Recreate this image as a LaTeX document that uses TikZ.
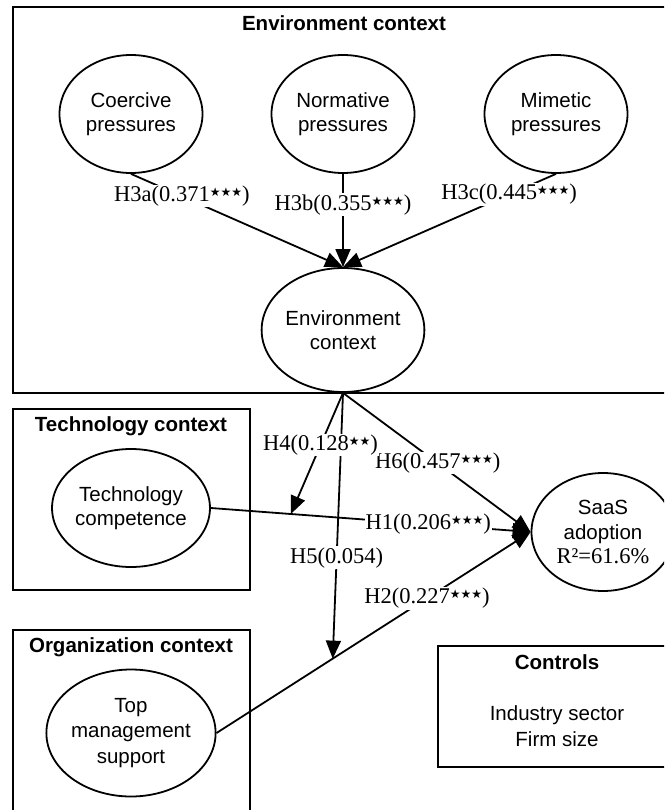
\documentclass[tikz,border=0pt]{standalone}
\usepackage{fontspec}
\setmainfont{Liberation Sans}
\newfontfamily\serifl{Liberation Serif}
\newfontfamily\symf{DejaVu Sans}
\usetikzlibrary{shapes.geometric,arrows.meta,calc}
\newcommand\sigstars[1]{\raisebox{5pt}{\symf\fontsize{12}{12}\selectfont #1}}
\tikzset{
  box/.style={draw,line width=2.4pt},
  lat/.style={draw,ellipse,line width=1.8pt,minimum width=143pt,minimum height=118pt,inner sep=0pt,align=center,font=\fontsize{20.5}{24.5}\selectfont},
  ttl/.style={font=\fontsize{20.5}{24}\selectfont\bfseries,inner sep=0pt},
  txt/.style={font=\fontsize{20.5}{26}\selectfont,align=center,inner sep=0pt},
  edge/.style={line width=1.8pt,-{Triangle[length=18pt,width=15pt]}},
  lbl/.style={fill=white,inner sep=1pt,font=\fontsize{22.5}{24}\selectfont\serifl},
}
\begin{document}
\begin{tikzpicture}[x=1pt,y=-1pt]
\useasboundingbox (0,0) rectangle (664,810);
\clip (0,0) rectangle (664,810);
% boxes
\draw[box] (12.7,7) rectangle (700,393);
\draw[box] (12.7,409) rectangle (250,590);
\draw[box] (12.7,630) rectangle (250,830);
\draw[box] (438,646) rectangle (700,767);
\node[ttl] (tenv) at (344,23) {Environment context};
\node[ttl] (ttech) at (131,426) {Technology context};
\node[ttl] (torg) at (131,647) {Organization context};
\node[ttl] (tctl) at (557,662) {Controls};
\node[txt] (ctl) at (557,726) {Industry sector\\Firm size};
% latent variables
\node[lat] (coe) at (131,114) {Coercive\\pressures};
\node[lat] (nor) at (343,114) {Normative\\pressures};
\node[lat] (mim) at (556,114) {Mimetic\\pressures};
\node[lat,minimum height=124pt] (envc) at (343,330) {Environment\\context};
\node[lat] (tech) at (131,508) {Technology\\competence};
\node[lat,minimum height=127pt,font=\fontsize{20.5}{25.5}\selectfont] (tms) at (131,733) {Top\\management\\support};
\node[lat] (saas) at (603,532) {SaaS\\adoption\\{\serifl\fontsize{22.5}{24}\selectfont R²=61.6\%}};
% interaction points
\coordinate (h1pt) at ($(tech.east)!0.25!(saas.west)$);
\coordinate (h2pt) at ($(tms.east)!0.37!(saas.west)$);
% connectors
\draw[edge] (coe.south) -- (envc.north);
\draw[edge] (nor.south) -- (envc.north);
\draw[edge] (mim.south) -- (envc.north);
\draw[edge] (tech.east) -- (saas.west);
\draw[edge] (tms.east) -- (saas.west);
\draw[edge] (envc.south) -- (saas.west);
\draw[edge] (envc.south) -- (h2pt);
\draw[edge] (envc.south) -- (h1pt);
% labels
\path (coe.south) -- (envc.north) node[lbl,pos=0.24] (l3a) {H3a(0.371\sigstars{★★★})};
\path (nor.south) -- (envc.north) node[lbl,pos=0.33] (l3b) {H3b(0.355\sigstars{★★★})};
\path (mim.south) -- (envc.north) node[lbl,pos=0.22] (l3c) {H3c(0.445\sigstars{★★★})};
\path (tech.east) -- (saas.west) node[lbl,pos=0.68] (l1) {H1(0.206\sigstars{★★★})};
\path (tms.east) -- (saas.west) node[lbl,pos=0.67] (l2) {H2(0.227\sigstars{★★★})};
\path (envc.south) -- (saas.west) node[lbl,pos=0.505] (l6) {H6(0.457\sigstars{★★★})};
\path (envc.south) -- (h2pt) node[lbl,pos=0.62] (l5) {H5(0.054)};
\path (envc.south) -- (h1pt) node[lbl,pos=0.43] (l4) {H4(0.128\sigstars{★★})};
\end{tikzpicture}
\end{document}
